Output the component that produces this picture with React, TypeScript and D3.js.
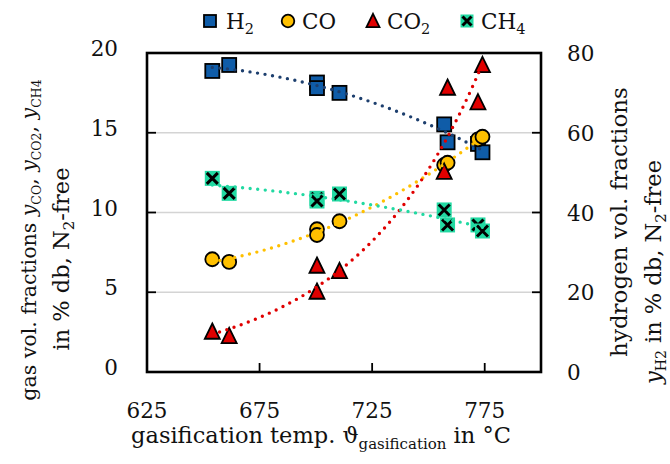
import React from 'react';
import * as d3 from 'd3';

const temps = [654, 661.5, 700.5, 700.5, 710.5, 757, 758.5, 772, 774];
const h2 = [75.5, 77.0, 72.6, 71.2, 70.0, 62.1, 57.6, 57.2, 55.1];
const co = [7.07, 6.9, 8.95, 8.59, 9.45, 12.98, 13.12, 14.59, 14.75];
const co2 = [2.53, 2.26, 6.67, 5.04, 6.33, 12.56, 17.83, 16.91, 19.25];
const ch4 = [12.14, 11.2, 10.89, 10.72, 11.16, 10.16, 9.22, 9.22, 8.84];
const xTicks = [625, 675, 725, 775];
const yLeftTicks = [0, 5, 10, 15, 20];
const yRightTicks = [0, 20, 40, 60, 80];

const W = 670, H = 464;
const M = { left: 147, right: 541, top: 53, bottom: 372 };
const FONT = "'DejaVu Serif', serif";

function polyFit2(xs: number[], ys: number[]) {
  const mx = d3.mean(xs)!;
  const u = xs.map((x) => x - mx);
  let s0 = 0, s1 = 0, s2 = 0, s3 = 0, s4 = 0, t0 = 0, t1 = 0, t2 = 0;
  u.forEach((x, i) => {
    const y = ys[i];
    s0 += 1; s1 += x; s2 += x * x; s3 += x ** 3; s4 += x ** 4;
    t0 += y; t1 += x * y; t2 += x * x * y;
  });
  const A = [[s0, s1, s2], [s1, s2, s3], [s2, s3, s4]];
  const b = [t0, t1, t2];
  const det = (m: number[][]) =>
    m[0][0] * (m[1][1] * m[2][2] - m[1][2] * m[2][1]) -
    m[0][1] * (m[1][0] * m[2][2] - m[1][2] * m[2][0]) +
    m[0][2] * (m[1][0] * m[2][1] - m[1][1] * m[2][0]);
  const D = det(A);
  const c = [0, 1, 2].map((k) => det(A.map((row, r) => row.map((v, j) => (j === k ? b[r] : v)))) / D);
  return (x: number) => c[0] + c[1] * (x - mx) + c[2] * (x - mx) ** 2;
}

function expFit(xs: number[], ys: number[]) {
  const ly = ys.map(Math.log);
  const mx = d3.mean(xs)!, my = d3.mean(ly)!;
  let num = 0, den = 0;
  xs.forEach((x, i) => { num += (x - mx) * (ly[i] - my); den += (x - mx) ** 2; });
  const b = num / den;
  return (x: number) => Math.exp(my + b * (x - mx));
}

const C = {
  h2: '#0f5ca8', h2Line: '#1d3f6e',
  co: '#ffc000', coLine: '#ffc000',
  co2: '#e00000', co2Line: '#e00000',
  ch4: '#22d9a2', ch4Line: '#22d9a2',
};

function Square({ x, y, s = 14, fill }: any) {
  return <rect x={x - s / 2} y={y - s / 2} width={s} height={s} fill={fill} stroke="#000" strokeWidth={1.8} />;
}
function Circle({ x, y, r = 7, fill }: any) {
  return <circle cx={x} cy={y} r={r} fill={fill} stroke="#000" strokeWidth={1.8} />;
}
function Tri({ x, y, s = 15, fill }: any) {
  const h = s * 0.95;
  return <path d={`M${x},${y - h / 2 - 1}L${x + s / 2},${y + h / 2}L${x - s / 2},${y + h / 2}Z`} fill={fill} stroke="#000" strokeWidth={1.8} strokeLinejoin="miter" />;
}
function Cross({ x, y, s = 15, fill }: any) {
  const a = s / 2 - 2;
  return (
    <g>
      <rect x={x - s / 2} y={y - s / 2} width={s} height={s} fill={fill} />
      <path d={`M${x - a},${y - a}L${x + a},${y + a}M${x + a},${y - a}L${x - a},${y + a}`} stroke="#000" strokeWidth={3} />
    </g>
  );
}

export default function App() {
  const x = d3.scaleLinear().domain([625, 800]).range([M.left, M.right]);
  const yL = d3.scaleLinear().domain([0, 20]).range([M.bottom, M.top]);
  const yR = d3.scaleLinear().domain([0, 80]).range([M.bottom, M.top]);

  const [t0, t1] = d3.extent(temps) as [number, number];
  const samples = d3.range(0, 201).map((i) => t0 + ((t1 - t0) * i) / 200);
  const fH2 = polyFit2(temps, h2);
  const fCO = polyFit2(temps, co);
  const fCO2 = expFit(temps, co2);
  const fCH4 = polyFit2(temps, ch4);
  const mk = (f: (t: number) => number, ys: any) => d3.line<number>().x((t) => x(t)).y((t) => ys(f(t)))(samples)!;

  const dot = { fill: 'none', strokeWidth: 3.4, strokeLinecap: 'round' as const, strokeDasharray: '0 7.6' };
  const fs = 21.5;
  const sub = 14.5;

  return (
    <svg width={W} height={H} style={{ position: 'absolute', left: 0, top: 0, background: '#fff' }} fontFamily={FONT}>
      <rect width={W} height={H} fill="#fff" />
      {yLeftTicks.filter((v) => v > 0 && v < 20).map((v) => (
        <line key={v} x1={M.left} x2={M.right} y1={yL(v)} y2={yL(v)} stroke="#d4d4d4" strokeWidth={1.6} />
      ))}
      {yLeftTicks.map((v) => (
        <line key={'tl' + v} x1={M.left} x2={M.left + 9} y1={yL(v)} y2={yL(v)} stroke="#000" strokeWidth={1.8} />
      ))}
      {yRightTicks.map((v) => (
        <line key={'tr' + v} x1={M.right - 9} x2={M.right} y1={yR(v)} y2={yR(v)} stroke="#000" strokeWidth={1.8} />
      ))}
      {xTicks.map((v) => (
        <line key={'tx' + v} x1={x(v)} x2={x(v)} y1={M.bottom} y2={M.bottom - 9} stroke="#000" strokeWidth={1.8} />
      ))}
      {temps.map((t, i) => <Square key={'h' + i} x={x(t)} y={yR(h2[i])} fill={C.h2} />)}
      {temps.map((t, i) => <Circle key={'c' + i} x={x(t)} y={yL(co[i])} fill={C.co} />)}
      {temps.map((t, i) => <Tri key={'t' + i} x={x(t)} y={yL(co2[i])} fill={C.co2} />)}
      {temps.map((t, i) => <Cross key={'x' + i} x={x(t)} y={yL(ch4[i])} fill={C.ch4} />)}
      <path d={mk(fH2, yR)} stroke={C.h2Line} {...dot} />
      <path d={mk(fCO, yL)} stroke={C.coLine} {...dot} />
      <path d={mk(fCO2, yL)} stroke={C.co2Line} {...dot} />
      <path d={mk(fCH4, yL)} stroke={C.ch4Line} {...dot} />
      <rect x={M.left} y={M.top} width={M.right - M.left} height={M.bottom - M.top} fill="none" stroke="#000" strokeWidth={2.6} />
      {yLeftTicks.map((v) => (
        <text key={'ll' + v} x={118} y={yL(v) + 3} textAnchor="end" fontSize={fs} fill="#111">{v}</text>
      ))}
      {yRightTicks.map((v) => (
        <text key={'rl' + v} x={567} y={yR(v) + 8} textAnchor="start" fontSize={fs} fill="#111">{v}</text>
      ))}
      {xTicks.map((v) => (
        <text key={'xl' + v} x={x(v)} y={418} textAnchor="middle" fontSize={fs} fill="#111">{v}</text>
      ))}
      <text x={321} y={443} textAnchor="middle" fontSize={22.5} fill="#111">
        gasification temp. ϑ<tspan fontSize={15} dy={6}>gasification</tspan><tspan dy={-6}> in °C</tspan>
      </text>
      <text transform="translate(36,240) rotate(-90)" textAnchor="middle" fontSize={20.5} fill="#111">
        gas vol. fractions <tspan fontStyle="italic">y</tspan><tspan fontSize={12.5} dy={5}>CO</tspan><tspan dy={-5}>, </tspan>
        <tspan fontStyle="italic">y</tspan><tspan fontSize={12.5} dy={5}>CO2</tspan><tspan dy={-5}>, </tspan>
        <tspan fontStyle="italic">y</tspan><tspan fontSize={12.5} dy={5}>CH4</tspan>
      </text>
      <text transform="translate(69,259) rotate(-90)" textAnchor="middle" fontSize={22.5} fill="#111">
        in % db, N<tspan fontSize={15} dy={5}>2</tspan><tspan dy={-5}>-free</tspan>
      </text>
      <text transform="translate(627,222) rotate(-90)" textAnchor="middle" fontSize={23} fill="#111">
        hydrogen vol. fractions
      </text>
      <text transform="translate(661,272) rotate(-90)" textAnchor="middle" fontSize={22.5} fill="#111">
        <tspan fontStyle="italic">y</tspan><tspan fontSize={14} dy={5}>H2</tspan><tspan dy={-5}> in % db, N</tspan><tspan fontSize={15} dy={5}>2</tspan><tspan dy={-5}>-free</tspan>
      </text>
      <g>
        <Square x={210} y={21} s={12} fill={C.h2} />
        <text x={226} y={29} fontSize={fs} fill="#111">H<tspan fontSize={sub} dy={5}>2</tspan></text>
        <Circle x={288} y={21} r={6.3} fill={C.co} />
        <text x={302} y={29} fontSize={fs} fill="#111">CO</text>
        <Tri x={373} y={21} s={13} fill={C.co2} />
        <text x={387} y={29} fontSize={fs} fill="#111">CO<tspan fontSize={sub} dy={5}>2</tspan></text>
        <Cross x={467} y={21} s={13} fill={C.ch4} />
        <text x={481} y={29} fontSize={fs} fill="#111">CH<tspan fontSize={sub} dy={5}>4</tspan></text>
      </g>
    </svg>
  );
}
